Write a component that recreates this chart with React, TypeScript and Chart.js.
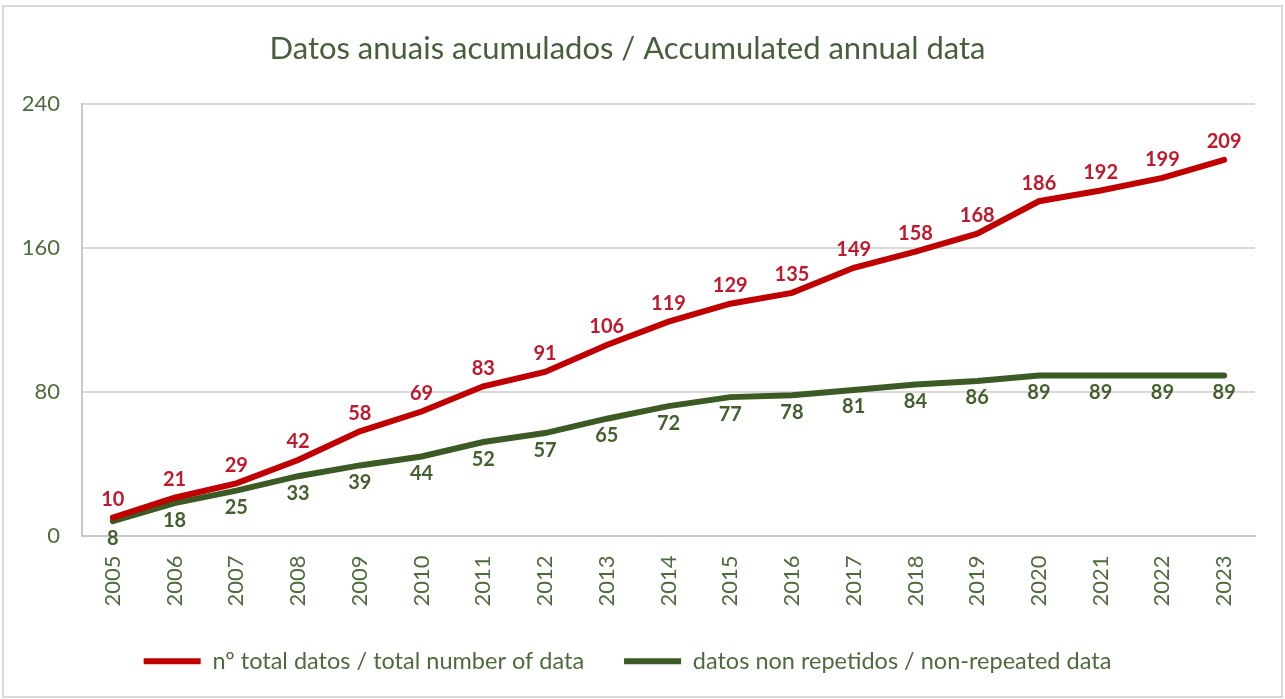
import React, { useEffect, useRef } from "react";
import { Chart, registerables } from "chart.js";

Chart.register(...registerables);

const years = ["2005","2006","2007","2008","2009","2010","2011","2012","2013","2014","2015","2016","2017","2018","2019","2020","2021","2022","2023"];
const totalData = [10,21,29,42,58,69,83,91,106,119,129,135,149,158,168,186,192,199,209];
const nonRepeated = [8,18,25,33,39,44,52,57,65,72,77,78,81,84,86,89,89,89,89];
const yTicks = [0, 80, 160, 240];

const titleText = "Datos anuais acumulados / Accumulated annual data";
const totalLabel = "nº total datos / total number of data";
const nonRepLabel = "datos non repetidos / non-repeated data";

const RED = "#C00000";
const GREEN = "#3B5A24";
const RED_TEXT = "#C0182C";
const GREEN_TEXT = "#44602F";
const AXIS_TEXT = "#4E6B3E";
const FONT = "Lato, 'Open Sans', sans-serif";

const labelPlugin = {
  id: "pointLabels",
  afterDatasetsDraw(chart: any) {
    const ctx = chart.ctx;
    ctx.save();
    ctx.font = `bold 20px ${FONT}`;
    ctx.textAlign = "center";
    ctx.textBaseline = "middle";
    chart.data.datasets.forEach((ds: any, i: number) => {
      const meta = chart.getDatasetMeta(i);
      const above = i === 0;
      ctx.fillStyle = above ? RED_TEXT : GREEN_TEXT;
      meta.data.forEach((pt: any, j: number) => {
        const v = ds.data[j];
        ctx.fillText(String(v), pt.x, pt.y + (above ? -18 : 17));
      });
    });
    ctx.restore();
  },
};

export default function App() {
  const ref = useRef<HTMLCanvasElement>(null);
  useEffect(() => {
    document.body.style.margin = "0";
    const chart = new Chart(ref.current!, {
      type: "line",
      data: {
        labels: years,
        datasets: [
          {
            label: totalLabel,
            data: totalData,
            borderColor: RED,
            backgroundColor: RED,
            borderWidth: 6,
            pointRadius: 0,
            tension: 0,
            borderCapStyle: "round",
          },
          {
            label: nonRepLabel,
            data: nonRepeated,
            borderColor: GREEN,
            backgroundColor: GREEN,
            borderWidth: 6,
            pointRadius: 0,
            tension: 0,
            borderCapStyle: "round",
          },
        ],
      },
      options: {
        animation: false,
        responsive: false,
        maintainAspectRatio: false,
        layout: { padding: { left: 0, right: 30, top: 0, bottom: 16 } },
        plugins: {
          title: {
            display: true,
            text: titleText,
            color: "#475F3C",
            font: { family: FONT, size: 31, weight: "normal" },
            padding: { top: 30, bottom: 37 },
          },
          legend: {
            position: "bottom",
            labels: {
              color: "#4E6B3E",
              font: { family: FONT, size: 23.5 },
              boxWidth: 57,
              boxHeight: 6,
              padding: 40,
              generateLabels: (c: any) =>
                c.data.datasets.map((d: any, i: number) => ({
                  text: d.label,
                  fillStyle: d.borderColor,
                  strokeStyle: d.borderColor,
                  lineWidth: 0,
                  datasetIndex: i,
                  fontColor: "#4E6B3E",
                })),
            },
          },
          tooltip: { enabled: false },
        },
        scales: {
          x: {
            offset: true,
            afterFit: (s: any) => { s.height = 74; },
            grid: { display: false, drawTicks: false },
            border: { display: true, color: "#C8C8C8", width: 2 },
            ticks: {
              color: AXIS_TEXT,
              font: { family: FONT, size: 22 },
              minRotation: 90,
              maxRotation: 90,
              padding: 20,
            },
          },
          y: {
            min: 0,
            max: 240,
            afterFit: (s: any) => { s.width = 82; },
            afterBuildTicks: (s: any) => { s.ticks = yTicks.map((v) => ({ value: v })); },
            grid: { color: "#D9D9D9", lineWidth: 2, drawTicks: false },
            border: { display: true, color: "#C8C8C8", width: 2 },
            ticks: {
              color: AXIS_TEXT,
              font: { family: FONT, size: 22 },
              padding: 22,
            },
          },
        },
      },
      plugins: [labelPlugin],
    });
    return () => chart.destroy();
  }, []);
  return (
    <div style={{ position: "relative", width: 1285, height: 699, background: "#fff" }}>
      <div style={{ position: "absolute", left: 2, top: 5, right: 2, bottom: 1, border: "2px solid #D9D9D9", boxSizing: "border-box" }} />
      <canvas ref={ref} width={1285} height={699} style={{ position: "absolute", left: 0, top: 0 }} />
    </div>
  );
}
